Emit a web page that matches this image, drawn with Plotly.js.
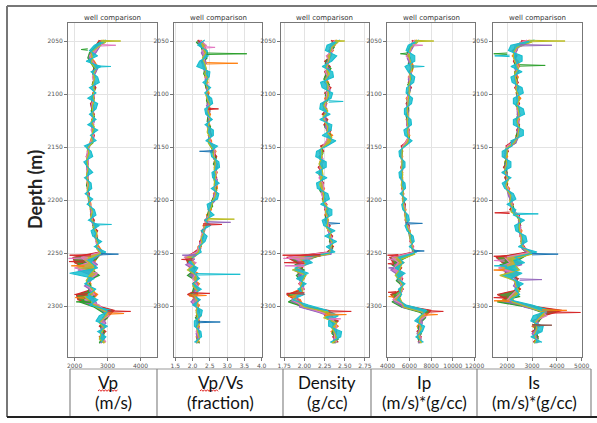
<!DOCTYPE html>
<html>
<head>
<meta charset="utf-8">
<script src="https://cdn.plot.ly/plotly-3.0.1.min.js"></script>
<style>html,body{margin:0;padding:0;background:#fff;}#chart{width:597px;height:423px;}</style>
</head>
<body>
<div id="chart"></div>
<script>
// ---------------- DATA ----------------
const DEPTH_A = [2049,2054,2059,2064,2069,2074,2079,2084,2089,2094,
2099,2104,2109,2114,2119,2124,2129,2134,2139,2144,
2149,2154,2159,2164,2169,2174,2179,2184,2189,2194,
2199,2204,2209,2214,2219,2224,2229,2234,2239,2244,
2249,2254,2259,2264,2269,2274,2279,2284,2289,2294,
2299,2304,2309,2314,2319,2324,2329,2334];
const DEPTH_B = [2051,2056,2061,2066,2071,2076,2081,2086,2091,2096,
2101,2106,2111,2116,2121,2126,2131,2136,2141,2146,
2151,2156,2161,2166,2171,2176,2181,2186,2191,2196,
2201,2206,2211,2216,2221,2226,2231,2236,2241,2246,
2251,2256,2261,2266,2271,2276,2281,2286,2291,2296,
2301,2306,2311,2316,2321,2326,2331,2335];

const DEPTH_TICKS = [2050,2100,2150,2200,2250,2300];

// Vp (m/s)
const VP_ORANGE = [2900,2750,2500,2450,2600,2700,2650,2550,2620,2580,
2600,2500,2560,2600,2520,2590,2500,2600,2530,2480,
2450,2380,2410,2360,2420,2380,2400,2370,2430,2400,
2460,2500,2470,2550,2500,2650,2620,2700,2650,2750,
2850,2700,2600,2650,2500,2400,2500,2450,2700,2550,
2700,3000,2900,2800,2900,2800,2900,2800];
const VP_RED = [2750,2650,2600,2550,2500,2600,2550,2620,2550,2650,
2550,2600,2480,2520,2600,2520,2580,2520,2600,2550,
2400,2430,2350,2420,2370,2420,2350,2430,2380,2450,
2420,2450,2530,2480,2600,2550,2700,2600,2720,2650,
2750,1950,2000,2300,2600,2450,2350,2550,2050,2100,
2600,3200,3050,2900,2750,2950,2750,2900];
const VP_PINK = [2850,2800,2600,2450,2550,2650,2600,2540,2600,2560,
2620,2580,2520,2600,2500,2560,2580,2500,2570,2500,
2430,2400,2360,2420,2380,2370,2410,2390,2400,2380,
2450,2470,2520,2500,2550,2600,2650,2680,2640,2700,
2800,2200,2400,2000,2700,2500,2400,2480,2600,2300,
2750,2900,3050,2750,2950,2750,2850,2950];
const VP_GREEN = [2750,2600,2450,2400,2500,2600,2550,2600,2530,2620,
2550,2520,2580,2500,2600,2550,2520,2590,2520,2560,
2380,2420,2380,2350,2400,2380,2420,2360,2420,2400,
2430,2460,2500,2500,2580,2560,2620,2700,2660,2720,
2780,2650,2100,2550,2750,2400,2500,2400,2600,2150,
2600,2850,3000,2800,2800,2900,2800,2750];
const VP_PURPLE = [2850,2750,2650,2500,2600,2700,2620,2560,2620,2560,
2600,2580,2500,2580,2540,2600,2520,2540,2580,2500,
2440,2380,2400,2420,2360,2430,2380,2410,2390,2440,
2420,2500,2480,2560,2520,2620,2640,2620,2700,2680,
2850,2500,2700,2100,2500,2500,2300,2550,2500,2650,
2700,3100,2850,2950,2800,2850,2900,2800];
const VP_OLIVE = [2950,2700,2500,2550,2500,2650,2580,2600,2550,2600,
2560,2600,2540,2540,2580,2500,2600,2540,2520,2540,
2400,2440,2370,2400,2410,2360,2400,2420,2380,2410,
2460,2470,2540,2490,2560,2580,2680,2640,2700,2670,
2820,2300,2550,2600,2450,2350,2450,2600,2300,2500,
2650,3000,2900,2750,2900,2800,2750,2900];
const VP_CYAN = [2950,2600,2450,2700,2350,2800,2500,2700,2750,2450,
2650,2400,2700,2650,2450,2650,2400,2700,2480,2650,
2300,2500,2550,2280,2400,2550,2300,2500,2520,2320,
2550,2380,2600,2650,2420,2750,2500,2550,2820,2600,
2950,2600,2500,2700,1850,2600,2300,2650,2400,2700,
2450,3100,2750,2650,3000,2700,2950,2800];
const VP_SPK_DEPTH = [2050,2054,2058,2074,2223,2251,2252,2255,2258,2262,2289,2292,2296,2305,2307];
const VP_SPK_FROM  = [2800,2800,2400,2600,2550,2800,2500,2400,2300,2300,2400,2300,2500,3000,3000];
const VP_SPK_TO    = [3400,3250,2200,3100,3120,3330,1850,1820,1830,1900,2000,2020,2050,3700,3500];
const VP_SPK_COLOR = ['olive','pink','green','cyan','cyan','blue','red','pink','red','orange','red','orange','green','red','orange'];
const VP_TICKS = [2000,3000,4000];

// Vp/Vs (fraction)
const VPVS_ORANGE = [2.25,2.35,2.40,2.30,2.38,2.30,2.45,2.35,2.45,2.38,
2.48,2.40,2.50,2.42,2.52,2.44,2.50,2.52,2.45,2.55,
2.55,2.68,2.60,2.70,2.62,2.72,2.60,2.70,2.72,2.60,
2.65,2.48,2.55,2.40,2.45,2.30,2.35,2.25,2.30,2.15,
2.15,1.95,2.05,1.90,2.15,2.00,2.20,2.05,2.15,2.00,
2.20,2.10,2.25,2.10,2.20,2.15,2.10,2.20];
const VPVS_RED = [2.15,2.28,2.35,2.40,2.25,2.32,2.35,2.45,2.38,2.46,
2.40,2.50,2.42,2.52,2.42,2.50,2.45,2.50,2.55,2.45,
2.62,2.58,2.70,2.62,2.72,2.62,2.70,2.65,2.62,2.70,
2.58,2.55,2.45,2.50,2.35,2.40,2.25,2.32,2.20,2.25,
2.05,1.80,1.85,2.10,1.95,2.15,2.00,2.15,1.85,2.20,
2.05,2.20,2.10,2.20,2.10,2.20,2.18,2.10];
const VPVS_PINK = [2.20,2.40,2.28,2.38,2.32,2.28,2.40,2.38,2.42,2.45,
2.40,2.42,2.48,2.45,2.40,2.50,2.46,2.44,2.52,2.50,
2.60,2.65,2.62,2.68,2.64,2.70,2.66,2.72,2.62,2.66,
2.62,2.50,2.48,2.48,2.38,2.35,2.30,2.25,2.25,2.18,
2.12,1.75,2.10,1.95,2.10,2.00,2.10,2.20,2.00,2.15,
2.15,2.10,2.20,2.18,2.15,2.10,2.20,2.15];
const VPVS_GREEN = [2.10,2.25,2.30,2.42,2.28,2.35,2.32,2.42,2.36,2.40,
2.45,2.40,2.46,2.50,2.44,2.42,2.52,2.45,2.48,2.46,
2.55,2.60,2.68,2.60,2.70,2.64,2.62,2.66,2.70,2.62,
2.55,2.58,2.45,2.42,2.42,2.32,2.28,2.30,2.22,2.22,
2.08,1.90,2.00,2.05,1.85,2.10,2.05,2.00,2.10,2.05,
2.15,2.20,2.08,2.20,2.12,2.18,2.12,2.20];
const VPVS_PURPLE = [2.30,2.35,2.25,2.32,2.40,2.30,2.42,2.36,2.44,2.40,
2.45,2.48,2.40,2.50,2.48,2.45,2.42,2.50,2.46,2.52,
2.60,2.64,2.60,2.72,2.66,2.60,2.72,2.64,2.68,2.60,
2.64,2.50,2.52,2.42,2.44,2.38,2.32,2.30,2.20,2.24,
2.00,2.05,1.80,2.05,2.00,2.10,2.15,2.05,2.12,1.95,
2.10,2.15,2.20,2.12,2.18,2.10,2.15,2.10];
const VPVS_OLIVE = [2.25,2.30,2.38,2.28,2.35,2.40,2.35,2.45,2.40,2.45,
2.38,2.44,2.50,2.44,2.50,2.48,2.45,2.42,2.50,2.45,
2.56,2.60,2.64,2.66,2.62,2.68,2.64,2.62,2.68,2.66,
2.58,2.55,2.48,2.46,2.40,2.34,2.32,2.24,2.28,2.20,
2.15,1.95,2.05,1.85,2.10,2.10,2.00,2.15,2.05,2.15,
2.12,2.10,2.15,2.20,2.12,2.15,2.20,2.12];
const VPVS_CYAN = [2.35,2.15,2.42,2.45,2.20,2.12,2.50,2.48,2.30,2.52,
2.35,2.55,2.58,2.35,2.38,2.57,2.36,2.60,2.60,2.38,
2.72,2.52,2.55,2.76,2.78,2.56,2.58,2.77,2.54,2.76,
2.72,2.42,2.45,2.62,2.35,2.52,2.25,2.42,2.36,2.18,
2.25,2.00,1.90,2.15,2.05,2.20,2.00,2.25,2.00,2.22,
2.00,2.28,2.25,2.05,2.05,2.24,2.26,2.05];
const VPVS_SPK_DEPTH = [2056,2062,2071,2114,2154,2218,2221,2223,2252,2256,2270,2288,2290,2315];
const VPVS_SPK_FROM  = [2.35,2.40,2.40,2.45,2.60,2.45,2.45,2.30,2.10,2.00,2.10,2.00,1.90,2.15];
const VPVS_SPK_TO    = [2.65,3.57,3.31,2.75,2.20,3.21,3.10,2.85,1.70,1.68,3.38,2.50,2.40,2.80];
const VPVS_SPK_COLOR = ['pink','green','orange','red','blue','olive','purple','red','purple','red','cyan','red','orange','blue'];
const VPVS_TICKS = [1.5,2.0,2.5,3.0,3.5,4.0];

// Density (g/cc)
const RHO_ORANGE = [2.40,2.32,2.36,2.28,2.30,2.26,2.30,2.25,2.30,2.27,
2.31,2.25,2.28,2.23,2.28,2.24,2.30,2.27,2.35,2.28,
2.24,2.18,2.22,2.19,2.23,2.18,2.23,2.20,2.25,2.21,
2.26,2.24,2.30,2.25,2.30,2.28,2.34,2.30,2.35,2.31,
2.35,1.85,2.05,1.90,2.00,1.92,2.00,1.94,1.80,1.95,
1.98,2.25,2.35,2.34,2.42,2.33,2.40,2.36];
const RHO_RED = [2.33,2.38,2.30,2.33,2.25,2.32,2.25,2.30,2.25,2.33,
2.25,2.30,2.22,2.28,2.22,2.29,2.24,2.33,2.30,2.33,
2.20,2.24,2.18,2.23,2.17,2.22,2.19,2.24,2.20,2.25,
2.22,2.28,2.25,2.30,2.25,2.32,2.29,2.35,2.31,2.36,
2.28,1.78,1.90,1.98,1.92,2.00,1.93,2.00,1.78,1.88,
1.92,2.30,2.25,2.42,2.35,2.40,2.35,2.42];
const RHO_PINK = [2.38,2.33,2.35,2.27,2.31,2.28,2.26,2.29,2.26,2.31,
2.27,2.28,2.26,2.24,2.27,2.23,2.28,2.32,2.29,2.27,
2.23,2.20,2.21,2.24,2.19,2.21,2.18,2.23,2.24,2.21,
2.24,2.27,2.26,2.27,2.29,2.30,2.30,2.33,2.34,2.32,
2.32,1.80,2.08,1.92,1.98,1.97,1.94,1.99,1.95,1.84,
1.96,2.15,2.32,2.36,2.40,2.38,2.37,2.40];
const RHO_GREEN = [2.34,2.37,2.31,2.29,2.26,2.33,2.27,2.24,2.31,2.28,
2.26,2.29,2.23,2.27,2.24,2.28,2.25,2.31,2.33,2.29,
2.21,2.23,2.19,2.22,2.21,2.18,2.22,2.21,2.19,2.24,
2.23,2.25,2.28,2.26,2.28,2.29,2.32,2.31,2.32,2.35,
2.25,2.05,1.88,2.00,1.90,1.95,1.98,1.95,1.92,1.80,
2.00,2.28,2.28,2.35,2.37,2.34,2.42,2.36];
const RHO_PURPLE = [2.39,2.31,2.34,2.32,2.27,2.29,2.29,2.28,2.27,2.32,
2.29,2.26,2.27,2.25,2.26,2.27,2.26,2.29,2.31,2.32,
2.22,2.19,2.23,2.20,2.22,2.21,2.20,2.21,2.23,2.22,
2.25,2.25,2.27,2.29,2.26,2.31,2.30,2.34,2.32,2.34,
2.33,1.90,1.95,1.88,1.97,1.94,1.99,1.96,1.90,1.93,
1.94,2.18,2.36,2.37,2.36,2.40,2.36,2.39];
const RHO_OLIVE = [2.42,2.34,2.32,2.31,2.29,2.27,2.31,2.26,2.29,2.29,
2.30,2.27,2.24,2.29,2.23,2.25,2.29,2.28,2.34,2.31,
2.21,2.22,2.21,2.18,2.22,2.23,2.20,2.19,2.23,2.24,
2.23,2.28,2.26,2.29,2.29,2.27,2.33,2.31,2.35,2.32,
2.31,1.95,2.02,1.85,2.02,1.98,1.95,1.98,1.85,1.92,
2.00,2.32,2.24,2.40,2.34,2.38,2.40,2.34];
const RHO_CYAN = [2.44,2.28,2.26,2.40,2.34,2.22,2.35,2.36,2.20,2.22,
2.35,2.33,2.20,2.19,2.32,2.19,2.34,2.33,2.22,2.39,
2.28,2.15,2.14,2.27,2.27,2.14,2.28,2.15,2.16,2.29,
2.31,2.20,2.34,2.34,2.22,2.24,2.38,2.25,2.40,2.27,
2.38,2.00,2.10,1.88,2.05,1.90,2.02,1.92,2.00,1.85,
2.05,2.28,2.42,2.30,2.30,2.46,2.45,2.32];
const RHO_SPK_DEPTH = [2050,2107,2222,2252,2255,2259,2262,2288,2291,2305,2308,2312];
const RHO_SPK_FROM  = [2.38,2.30,2.30,2.20,2.10,2.00,2.00,2.00,1.90,2.30,2.25,2.30];
const RHO_SPK_TO    = [2.50,2.48,2.44,1.73,1.74,1.75,1.76,1.78,1.80,2.58,2.52,2.45];
const RHO_SPK_COLOR = ['olive','cyan','blue','red','pink','red','pink','red','orange','red','orange','pink'];
const RHO_TICKS = [1.75,2.00,2.25,2.50,2.75];

// Ip (m/s)*(g/cc)
const IP_ORANGE = [6700,6300,5900,6000,6200,6400,6250,5900,6150,5950,
6050,5700,5950,5750,5900,5700,5950,5800,6050,5700,
5450,5200,5400,5250,5450,5250,5400,5300,5500,5300,
5550,5450,5700,5550,5800,5800,6100,6000,6300,6200,
6550,4600,5500,4800,5300,5000,5450,5150,4700,5100,
5600,7600,7100,7100,6700,7000,6700,7100];
const IP_RED = [6250,6400,6100,5800,6000,6300,5950,6150,5900,6200,
5800,6000,5700,5950,5700,5900,5750,6000,5800,5900,
5250,5400,5200,5450,5200,5400,5200,5450,5300,5500,
5350,5650,5500,5750,5600,6000,5900,6200,6050,6400,
6300,4200,4500,5300,4900,5400,5150,5450,4300,4700,
5200,8000,7500,6700,7100,6700,7100,6800];
const IP_PINK = [6500,6100,6150,5700,6200,6100,6200,5950,6100,6000,
6000,5800,5900,5800,5850,5850,5800,5950,5950,5750,
5400,5250,5350,5300,5250,5300,5350,5300,5350,5450,
5500,5500,5650,5600,5750,5850,6050,6100,6100,6350,
6450,4400,5000,4600,5400,5300,5200,5400,5100,4500,
5500,6900,7600,6800,7000,6900,7000,6900];
const IP_GREEN = [6300,6000,5800,6100,5900,6300,6000,6200,5850,6100,
5950,5800,5850,5950,5700,5850,5900,5800,6000,5850,
5300,5350,5250,5400,5350,5250,5400,5300,5400,5350,
5500,5600,5550,5700,5650,5950,5950,6050,6250,6250,
6350,5300,4400,5100,5200,4800,5350,5200,5200,4400,
5300,7000,7500,7000,6800,7100,6800,7000];
const IP_PURPLE = [6600,6350,6050,5800,6000,6150,6200,5900,6050,6100,
5850,5900,5750,5900,5850,5750,5800,6000,5850,5900,
5300,5200,5350,5300,5400,5300,5250,5400,5350,5450,
5400,5600,5600,5700,5650,5950,6000,6150,6200,6350,
6300,4800,5100,4300,5000,5300,5250,5350,4900,5200,
5350,7400,7100,7200,7000,6700,7100,6800];
const IP_OLIVE = [6800,6150,6000,6000,6150,6250,6050,6100,5950,6000,
5950,5900,5850,5800,5900,5800,5900,5850,5950,5850,
5350,5350,5300,5300,5300,5400,5350,5250,5450,5400,
5400,5500,5650,5600,5750,5850,6100,6050,6200,6300,
6500,5200,5300,5100,4700,5100,5400,5250,5100,5300,
5500,7300,7000,6900,7100,6800,7000,7100];
const IP_CYAN = [6900,5900,5700,6500,6500,5600,5900,6500,6400,5750,
5700,6300,6200,5550,5550,6150,6200,5500,5600,6250,
5650,5050,5100,5600,5600,5050,5100,5600,5650,5150,
5750,5300,5400,5900,6000,5600,5800,6350,6450,6000,
6700,5000,5500,4700,5600,4900,5600,5000,5300,4900,
5700,7600,7000,6500,7400,7200,6600,7300];
const IP_SPK_DEPTH = [2050,2054,2062,2074,2222,2248,2252,2256,2260,2264,2287,2291,2305,2308];
const IP_SPK_FROM  = [6500,6300,5800,6200,5700,6400,5000,4800,4600,4600,4800,4600,7800,7400];
const IP_SPK_TO    = [8250,7230,5180,7370,7200,7370,4000,4050,4030,4100,4050,4100,9120,8600];
const IP_SPK_COLOR = ['olive','pink','green','cyan','blue','blue','red','pink','red','purple','red','orange','red','orange'];
const IP_TICKS = [4000,6000,8000,10000,12000];

// Is (m/s)*(g/cc)
const IS_ORANGE = [2900,2350,2400,2200,2450,2500,2300,2450,2350,2480,
2350,2550,2380,2500,2400,2500,2380,2520,2350,2380,
2050,1900,2020,1900,2000,1880,2050,1900,2100,2050,
2200,2150,2250,2400,2550,2450,2600,2500,2680,2600,
3000,1700,2600,1800,2500,2300,2500,2400,2400,1800,
2900,3800,3200,3300,3000,3300,3050,3250];
const IS_RED = [2600,2500,2200,2400,2250,2350,2450,2300,2450,2300,
2450,2380,2500,2400,2520,2350,2500,2380,2480,2250,
1950,2050,1880,2000,1850,2000,1900,2020,2000,2150,
2100,2250,2100,2500,2450,2550,2450,2600,2550,2700,
2800,1550,1800,2200,1900,2450,2300,2550,1600,2000,
2700,4200,3500,3000,3300,3000,3250,3050];
const IS_PINK = [2800,2300,2350,2250,2300,2450,2400,2300,2400,2350,
2420,2400,2450,2380,2500,2450,2400,2480,2450,2300,
2000,1950,1900,2020,1950,1900,2000,1920,2050,2100,
2200,2200,2200,2450,2500,2500,2550,2520,2600,2650,
2950,1900,2100,1650,2400,2200,2350,2400,2200,2000,
2750,3300,3600,3100,3250,3200,3100,3300];
const IS_GREEN = [2550,2300,2250,2350,2300,2350,2300,2400,2350,2400,
2380,2420,2350,2500,2400,2380,2500,2400,2350,2350,
1950,2000,1950,1900,1980,2000,1950,2000,2050,2100,
2150,2250,2300,2400,2550,2450,2500,2600,2600,2600,
2850,2500,1700,2300,2200,2400,2500,2300,2500,1600,
2800,3400,3400,3200,3100,3200,3250,3100];
const IS_PURPLE = [2900,2450,2350,2300,2400,2300,2400,2300,2350,2420,
2400,2400,2450,2400,2420,2480,2450,2400,2450,2350,
2050,1900,2000,1950,1900,2000,2000,1950,2000,2050,
2150,2150,2250,2500,2450,2550,2500,2550,2650,2600,
2900,2000,2600,1800,2200,2400,2250,2500,2100,2300,
2700,3600,3200,3250,3200,3000,3200,3200];
const IS_OLIVE = [3000,2400,2250,2250,2350,2450,2300,2350,2400,2350,
2450,2480,2400,2450,2480,2400,2480,2450,2420,2280,
2000,2000,1950,1980,1900,1950,2050,1950,2000,2150,
2100,2200,2150,2450,2500,2480,2520,2580,2550,2700,
3000,2200,2300,2500,1700,2300,2350,2500,2300,2200,
2850,3500,3300,3100,3200,3100,3150,3100];
const IS_CYAN = [3100,2150,2050,2600,2600,2150,2600,2150,2200,2600,
2650,2250,2250,2650,2700,2250,2250,2650,2650,2150,
2200,1800,1800,2150,2150,1780,2150,1800,1900,2250,
2350,2000,2350,2250,2700,2300,2350,2750,2800,2450,
3200,2300,2700,1900,2600,2150,2650,2300,2500,2100,
3000,3700,3050,2950,3450,3400,2950,3400];
const IS_SPK_DEPTH = [2050,2054,2062,2064,2073,2212,2213,2251,2253,2257,2262,2266,2275,2292,2295,2304,2306,2318];
const IS_SPK_FROM  = [2900,2500,2000,2100,2500,2100,2300,3000,2000,1900,2000,1900,2500,2000,2100,3400,3600,3000];
const IS_SPK_TO    = [4330,3800,1460,1500,3530,1500,3250,4050,1460,1470,1480,1460,3400,1460,1470,4400,4950,3800];
const IS_SPK_COLOR = ['olive','purple','green','cyan','green','red','cyan','blue','red','pink','cyan','orange','purple','red','orange','orange','red','brown'];
const IS_TICKS = [2000,3000,4000,5000];

const PANEL_TITLES = ['well comparison','well comparison','well comparison','well comparison','well comparison'];
const TABLE_LINE1 = ['Vp','Vp/Vs','Density','Ip','Is'];
const TABLE_LINE2 = ['(m/s)','(fraction)','(g/cc)','(m/s)*(g/cc)','(m/s)*(g/cc)'];
const Y_LABEL = 'Depth (m)';

// ---------------- STYLE / LAYOUT ----------------
const COLORS = {blue:'#1f77b4',orange:'#ff7f0e',green:'#2ca02c',red:'#d62728',purple:'#9467bd',
  brown:'#8c564b',pink:'#e377c2',gray:'#7f7f7f',olive:'#bcbd22',cyan:'#17becf'};
const W = 597, H = 423;
const PX = x => x / W;
const PY = y => 1 - y / H;

const panels = [
  {wells:{orange:VP_ORANGE,red:VP_RED,pink:VP_PINK,green:VP_GREEN,purple:VP_PURPLE,olive:VP_OLIVE,cyan:VP_CYAN},
   spk:[VP_SPK_DEPTH,VP_SPK_FROM,VP_SPK_TO,VP_SPK_COLOR], ticks:VP_TICKS, fmt:'d', range:[1800,4500], px:[68,157]},
  {wells:{orange:VPVS_ORANGE,red:VPVS_RED,pink:VPVS_PINK,green:VPVS_GREEN,purple:VPVS_PURPLE,olive:VPVS_OLIVE,cyan:VPVS_CYAN},
   spk:[VPVS_SPK_DEPTH,VPVS_SPK_FROM,VPVS_SPK_TO,VPVS_SPK_COLOR], ticks:VPVS_TICKS, fmt:'.1f', range:[1.46,4.01], px:[174,262]},
  {wells:{orange:RHO_ORANGE,red:RHO_RED,pink:RHO_PINK,green:RHO_GREEN,purple:RHO_PURPLE,olive:RHO_OLIVE,cyan:RHO_CYAN},
   spk:[RHO_SPK_DEPTH,RHO_SPK_FROM,RHO_SPK_TO,RHO_SPK_COLOR], ticks:RHO_TICKS, fmt:'.2f', range:[1.71,2.80], px:[281,369]},
  {wells:{orange:IP_ORANGE,red:IP_RED,pink:IP_PINK,green:IP_GREEN,purple:IP_PURPLE,olive:IP_OLIVE,cyan:IP_CYAN},
   spk:[IP_SPK_DEPTH,IP_SPK_FROM,IP_SPK_TO,IP_SPK_COLOR], ticks:IP_TICKS, fmt:'d', range:[3950,12030], px:[387,475]},
  {wells:{orange:IS_ORANGE,red:IS_RED,pink:IS_PINK,green:IS_GREEN,purple:IS_PURPLE,olive:IS_OLIVE,cyan:IS_CYAN},
   spk:[IS_SPK_DEPTH,IS_SPK_FROM,IS_SPK_TO,IS_SPK_COLOR], ticks:IS_TICKS, fmt:'d', range:[1430,5010], px:[493,582]}
];
const GRID_A = ['orange','red','pink','cyan'];
const ORDER = ['orange','red','green','purple','pink','olive','cyan'];
const PLOT_TOP = 23, PLOT_BOT = 357;

const hexA = (hex, a) => {
  const n = parseInt(hex.slice(1), 16);
  return 'rgba(' + (n >> 16) + ',' + ((n >> 8) & 255) + ',' + (n & 255) + ',' + a + ')';
};

const traces = [];
const layout = {
  width: W, height: H, margin:{l:0,r:0,t:0,b:0,pad:0},
  paper_bgcolor:'#ffffff', plot_bgcolor:'#ffffff', showlegend:false,
  annotations:[], shapes:[]
};
const tickFont = {family:'DejaVu Sans, sans-serif', size:6, color:'#555'};

panels.forEach((p, i) => {
  const s = i === 0 ? '' : String(i + 1);
  const xa = 'x' + s, ya = 'y' + s;
  // well logs: each log drawn as a line; the area swept between consecutive logs is shaded with the log colour
  ORDER.forEach((name, k) => {
    traces.push({x:p.wells[name], y: GRID_A.includes(name) ? DEPTH_A : DEPTH_B, type:'scatter', mode:'lines',
      line:{color:COLORS[name], width:1.1}, fill: k === 0 ? 'none' : 'tonextx',
      fillcolor: hexA(COLORS[name], name === 'cyan' ? 0.85 : 0.75),
      xaxis:xa, yaxis:ya, hoverinfo:'skip'});
  });
  const [sd, sf, st, sc] = p.spk;
  sd.forEach((d, j) => {
    traces.push({x:[sf[j], st[j], sf[j]], y:[d - 0.7, d, d + 0.7], type:'scatter', mode:'lines',
      line:{color:COLORS[sc[j]], width:1}, xaxis:xa, yaxis:ya, hoverinfo:'skip'});
  });

  const axCommon = {showgrid:true, gridcolor:'#e3e3e3', gridwidth:1, zeroline:false, showline:true, mirror:true,
    linecolor:'#777', linewidth:1, ticks:'outside', ticklen:3, tickcolor:'#777', tickfont:tickFont, fixedrange:true};
  layout['xaxis' + s] = Object.assign({}, axCommon, {domain:[PX(p.px[0]), PX(p.px[1])], range:p.range,
    tickmode:'array', tickvals:p.ticks, tickformat:p.fmt, anchor:ya});
  layout['yaxis' + s] = Object.assign({}, axCommon, {domain:[PY(PLOT_BOT), PY(PLOT_TOP)], range:[2348, 2033],
    tickmode:'array', tickvals:DEPTH_TICKS, tickformat:'d', anchor:xa});

  layout.annotations.push({text:PANEL_TITLES[i], xref:'paper', yref:'paper', x:PX((p.px[0] + p.px[1]) / 2), y:PY(17.5),
    xanchor:'center', yanchor:'middle', showarrow:false, font:{family:'DejaVu Sans, sans-serif', size:7, color:'#333'}});
});

// y label
layout.annotations.push({text:'<b>' + Y_LABEL + '</b>', xref:'paper', yref:'paper', x:PX(35), y:PY(190),
  xanchor:'center', yanchor:'middle', textangle:-90, showarrow:false, font:{family:'Lato, sans-serif', size:18, color:'#222'}});

// table
const CELL_X = [70, 157, 283, 371, 477, 591];
const LINE1_X = [108, 220, 327, 424, 534];
const LINE2_X = [113, 220, 327, 424, 534];
const TBL_TOP = 369, TBL_BOT = 417;
for (let i = 0; i < 5; i++) {
  layout.annotations.push({text:TABLE_LINE1[i], xref:'paper', yref:'paper', x:PX(LINE1_X[i]), y:PY(382), xanchor:'center', yanchor:'middle',
    showarrow:false, font:{family:'Lato, sans-serif', size:17, color:'#111'}});
  layout.annotations.push({text:TABLE_LINE2[i], xref:'paper', yref:'paper', x:PX(LINE2_X[i]), y:PY(402), xanchor:'center', yanchor:'middle',
    showarrow:false, font:{family:'Lato, sans-serif', size:17, color:'#111'}});
}
const line = (x0, y0, x1, y1, color, width) => layout.shapes.push({type:'line', xref:'paper', yref:'paper',
  x0:PX(x0), y0:PY(y0), x1:PX(x1), y1:PY(y1), line:{color:color, width:width}});
line(70, TBL_TOP, 591, TBL_TOP, '#999', 1);
CELL_X.forEach(x => line(x, TBL_TOP, x, TBL_BOT, '#888', 1.2));
// outer frame
line(7, 6, 597, 6, '#777', 2);
line(7, 6, 7, 417, '#777', 2);
line(7, 417, 597, 417, '#222', 2);

// spell-check squiggles
const squiggle = (x0, x1, y) => {
  let d = 'M' + PX(x0) + ',' + PY(y);
  let up = true;
  for (let x = x0 + 1.5; x <= x1; x += 1.5) { d += ' L' + PX(x) + ',' + PY(y + (up ? -1.3 : 0.3)); up = !up; }
  layout.shapes.push({type:'path', xref:'paper', yref:'paper', path:d, line:{color:'#e02020', width:1}});
};
squiggle(98, 118, 391);
squiggle(200, 218, 391);

Plotly.newPlot('chart', traces, layout, {staticPlot:true, displayModeBar:false});
</script>
</body>
</html>
